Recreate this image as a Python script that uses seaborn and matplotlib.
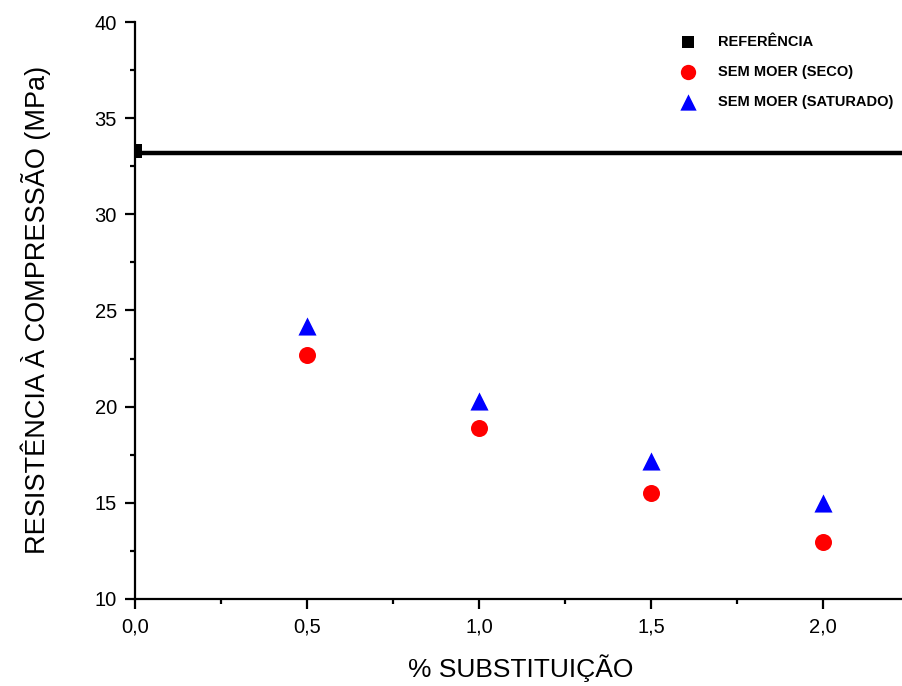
import matplotlib
matplotlib.use("Agg")
import matplotlib.pyplot as plt
import seaborn as sns
from matplotlib.ticker import MultipleLocator, FixedLocator, FuncFormatter

# Data
ref_x = [0.0]
ref_y = [33.3]
ref_line = 33.2
subst = [0.5, 1.0, 1.5, 2.0]
seco = [22.7, 18.9, 15.5, 12.95]
saturado = [24.2, 20.3, 17.2, 15.0]
x_ticks = [0.0, 0.5, 1.0, 1.5, 2.0]
y_ticks = [10, 15, 20, 25, 30, 35, 40]

labels = ["REFERÊNCIA", "SEM MOER (SECO)", "SEM MOER (SATURADO)"]

sns.set_style("ticks")
plt.rcParams['font.family'] = ['Liberation Sans', 'DejaVu Sans']
plt.rcParams.update({"text.color": "black", "axes.labelcolor": "black",
                     "xtick.color": "black", "ytick.color": "black"})

fig = plt.figure(figsize=(9.03, 6.86), dpi=100)
W, H = 903, 686
left, bottom, top = 135, 599, 22
right = 135 + 860
ax = fig.add_axes([left / W, (H - bottom) / H, (right - left) / W, (bottom - top) / H])

ax.axhline(ref_line, color="black", lw=3.2, zorder=2)
sns.scatterplot(x=ref_x, y=ref_y, marker="s", color="black", s=90, linewidth=0,
                ax=ax, label=labels[0], zorder=3)
sns.scatterplot(x=subst, y=seco, marker="o", color="#ff0000", s=150, linewidth=0,
                ax=ax, label=labels[1], zorder=3)
sns.scatterplot(x=subst, y=saturado, marker="^", color="#0000ff", s=170, linewidth=0,
                ax=ax, label=labels[2], zorder=3)

ax.set_xlim(0, 2.5)
ax.set_ylim(10, 40)
ax.xaxis.set_major_locator(FixedLocator(x_ticks))
ax.xaxis.set_minor_locator(FixedLocator([0.25, 0.75, 1.25, 1.75, 2.25]))
ax.yaxis.set_major_locator(FixedLocator(y_ticks))
ax.yaxis.set_minor_locator(MultipleLocator(2.5))
ax.xaxis.set_major_formatter(FuncFormatter(lambda v, p: f"{v:.1f}".replace(".", ",")))
ax.yaxis.set_major_formatter(FuncFormatter(lambda v, p: f"{v:.0f}"))

for s in ["top", "right"]:
    ax.spines[s].set_visible(False)
for s in ["left", "bottom"]:
    ax.spines[s].set_linewidth(1.6)
    ax.spines[s].set_color("black")
ax.tick_params(which="major", length=7, width=1.6, labelsize=14.5, color="black",
               labelcolor="black", pad=6)
ax.tick_params(which="minor", length=3.5, width=1.6, color="black")

ax.set_xlabel("% SUBSTITUIÇÃO", fontsize=19, color="black")
ax.set_ylabel("RESISTÊNCIA À COMPRESSÃO (MPa)", fontsize=19.5, color="black")
ax.xaxis.label.set_va("center")
ax.yaxis.label.set_va("center")
ax.xaxis.set_label_coords((521 - left) / (right - left), -(668 - bottom) / (bottom - top))
ax.yaxis.set_label_coords((36 - left) / (right - left), (bottom - 310) / (bottom - top))

leg = ax.legend(loc="upper left", bbox_to_anchor=(668 / W, 1 - 29 / H),
                bbox_transform=fig.transFigure, frameon=False,
                prop={"weight": "bold", "size": 10.5}, handletextpad=1.0,
                labelspacing=1.1, borderaxespad=0, markerscale=0.9)
for t in leg.get_texts():
    t.set_color("black")

fig.savefig("out.png", dpi=100)
